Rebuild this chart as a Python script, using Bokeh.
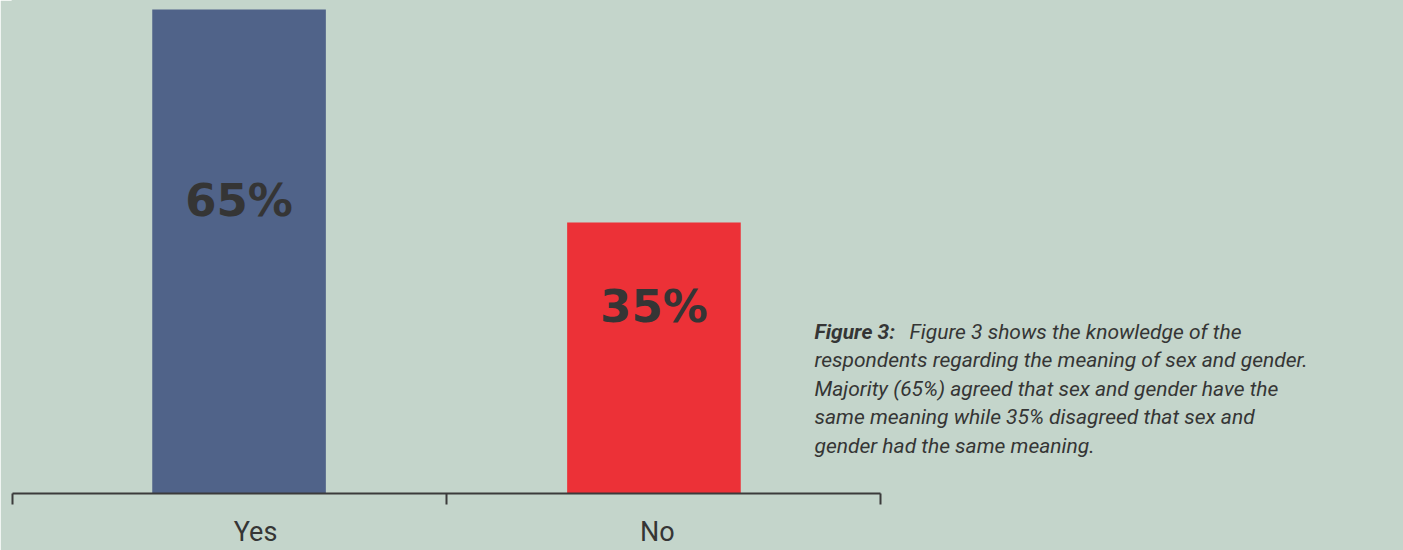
from bokeh.plotting import figure
from bokeh.models import Range1d, FixedTicker, LinearAxis, Label, ColumnDataSource
from bokeh.embed import file_html
from bokeh.resources import INLINE
from bokeh.core.properties import value

# ---- data ----
categories = ["Yes", "No"]
percent = [65, 35]
value_labels = ["65%", "35%"]
caption_bold = "Figure 3:"
caption_first = "Figure 3 shows the knowledge of the"
caption_rest = [
    "respondents regarding the meaning of sex and gender.",
    "Majority (65%) agreed that sex and gender have the",
    "same meaning while 35% disagreed that sex and",
    "gender had the same meaning.",
]

# ---- style ----
BG = "#c4d5cb"
BAR_COLORS = ["#506389", "#ec3137"]
INK = "#353535"
BASE = -3.17          # visual baseline of the bars
PX_PER_UNIT = 7.1
FRAME_H = 493
FRAME_W = 1391
CAT_W = 434

n = len(categories)
bar_x = [i + 0.5 + 0.022 * (1 - 2 * i) for i in range(n)]
mid = [(v + BASE) / 2 for v in percent]
src = ColumnDataSource(dict(x=bar_x, top=percent, mid=mid, color=BAR_COLORS, lab=value_labels))

p = figure(width=1403, height=550, output_backend="svg", toolbar_location=None,
           x_range=Range1d(0, FRAME_W / CAT_W),
           y_range=Range1d(BASE, BASE + FRAME_H / PX_PER_UNIT),
           x_axis_location=None, y_axis_location=None,
           min_border_left=12, min_border_right=0, min_border_top=0, min_border_bottom=550 - FRAME_H)
p.background_fill_color = BG
p.border_fill_color = BG
p.outline_line_color = BG
p.outline_line_width = 2
p.grid.visible = False

p.vbar(x="x", top="top", bottom=BASE, width=0.4, color="color", line_color=None, source=src)

p.text(x="x", y="mid", text="lab", source=src, y_offset=-51,
       text_font=value("DejaVu Sans"), text_font_style="bold", text_font_size="45px",
       text_align="center", text_baseline="middle", text_color=INK)

# axis: line with boundary ticks, category labels
label_pos = [0.56, 1.486]
ax = LinearAxis(ticker=FixedTicker(ticks=label_pos, minor_ticks=list(range(n + 1))), bounds=(0, n))
ax.major_label_overrides = {label_pos[i]: categories[i] for i in range(n)}
ax.major_tick_out = 0
ax.major_tick_in = 0
ax.minor_tick_out = 11
ax.minor_tick_in = 0
ax.minor_tick_line_width = 2
ax.minor_tick_line_color = "#3b3b3b"
ax.axis_line_width = 2
ax.axis_line_color = "#3b3b3b"
ax.major_label_text_font = "Roboto"
ax.major_label_text_font_size = "27px"
ax.major_label_text_color = INK
ax.major_label_standoff = 11
p.add_layout(ax, "below")

# caption (screen units relative to frame: x from left, y from bottom)
cap_x = 802
cap_y0 = 162
cap_dy = 28.6
cap_font = "Roboto"
cap_size = "21px"
p.add_layout(Label(x=cap_x, y=cap_y0, x_units="screen", y_units="screen", text=caption_bold,
                   text_font=cap_font, text_font_size=cap_size, text_font_style="bold italic",
                   text_color=INK, text_baseline="alphabetic"))
p.add_layout(Label(x=cap_x + 95, y=cap_y0, x_units="screen", y_units="screen", text=caption_first,
                   text_font=cap_font, text_font_size=cap_size, text_font_style="italic",
                   text_color=INK, text_baseline="alphabetic"))
for i, line in enumerate(caption_rest):
    p.add_layout(Label(x=cap_x, y=cap_y0 - cap_dy * (i + 1), x_units="screen", y_units="screen",
                       text=line, text_font=cap_font, text_font_size=cap_size, text_font_style="italic",
                       text_color=INK, text_baseline="alphabetic"))

open("out.html", "w").write(file_html(p, INLINE))
